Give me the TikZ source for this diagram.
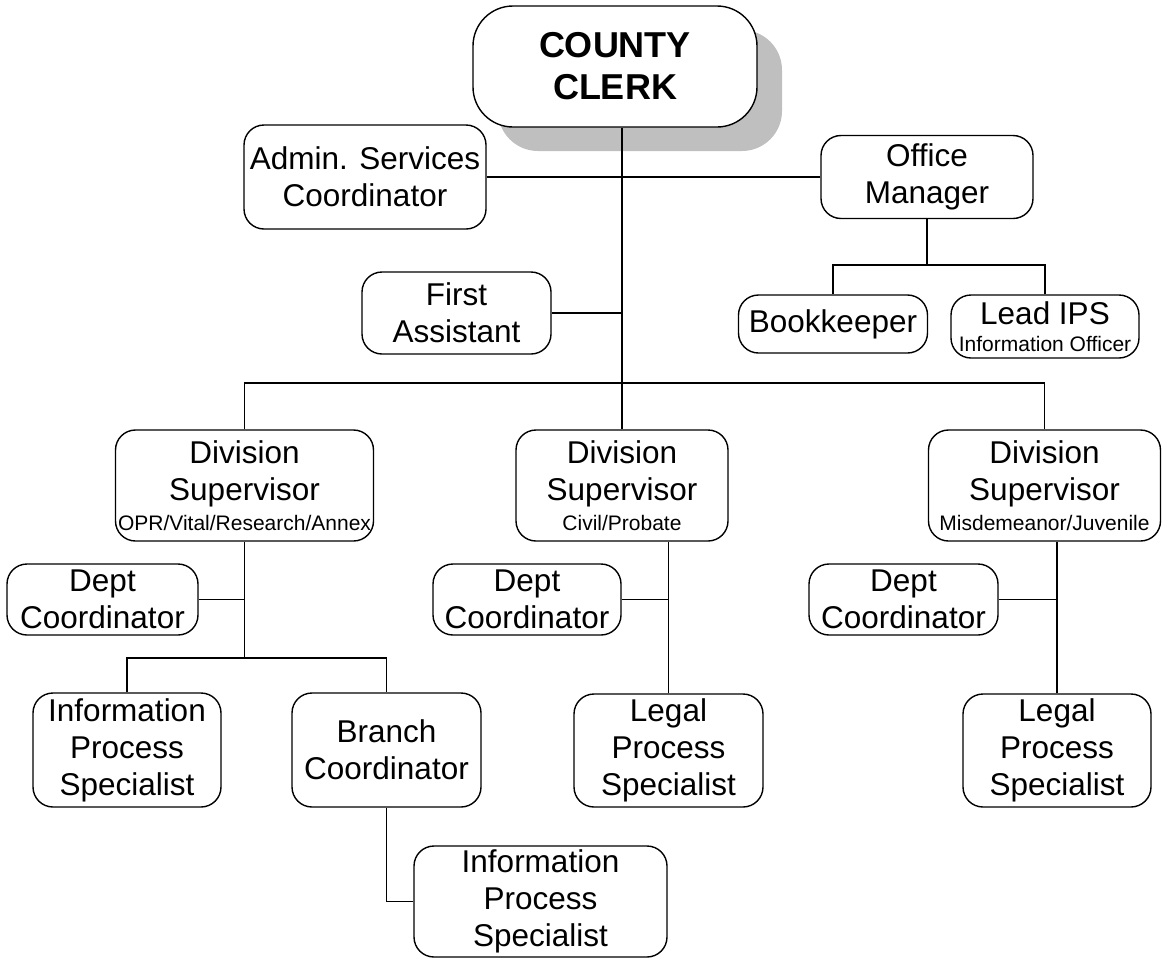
\documentclass[tikz,border=0pt]{standalone}
\usepackage{fontspec}
\setmainfont{Liberation Sans}
\usetikzlibrary{shadows}
\newcommand\subt[1]{{\fontsize{21}{25}\selectfont #1}}
\begin{document}
\begin{tikzpicture}[x=1pt,y=-1pt,
  orgbox/.style={draw, line width=1.4pt, rounded corners=20pt, fill=white,
    align=center, inner sep=1pt, font=\fontsize{31.5}{37}\selectfont},
  link/.style={line width=1.4pt},
]
\useasboundingbox (0,0) rectangle (1162,959);

% top of the chart
\node[orgbox, rounded corners=40pt, minimum width=284pt, minimum height=121pt,
  font=\fontsize{36}{42}\selectfont\bfseries,
  general shadow={fill=black!25, shadow xshift=25pt, shadow yshift=-24pt}]
  (clerk) at (615,66.5) {COUNTY\\CLERK};
\node[orgbox, minimum width=242pt, minimum height=104pt] (admin) at (365,177) {Admin. Services\\Coordinator};
\node[orgbox, minimum width=212pt, minimum height=83pt] (om) at (927,177) {Office\\Manager};
\node[orgbox, minimum width=189pt, minimum height=82pt] (fa) at (456.5,313) {First\\Assistant};
\node[orgbox, minimum width=189pt, minimum height=58pt] (bk) at (833,324) {Bookkeeper};
\node[orgbox, minimum width=188pt, minimum height=63pt] (lead) at (1045,326.5) {Lead IPS\\[-9.5pt]\subt{Information Officer}};

% divisions
\node[orgbox, minimum width=258pt, minimum height=111pt] (div1) at (244.5,485.5) {Division\\Supervisor\\[-6.5pt]\subt{OPR/Vital/Research/Annex}};
\node[orgbox, minimum width=212pt, minimum height=111pt] (div2) at (622,485.5) {Division\\Supervisor\\[-6.5pt]\subt{Civil/Probate}};
\node[orgbox, minimum width=232pt, minimum height=111pt] (div3) at (1044.5,485.5) {Division\\Supervisor\\[-6.5pt]\subt{Misdemeanor/Juvenile}};

\node[orgbox, minimum width=191pt, minimum height=71pt] (dc1) at (102.5,599.5) {Dept\\Coordinator};
\node[orgbox, minimum width=188pt, minimum height=71pt] (dc2) at (527,599.5) {Dept\\Coordinator};
\node[orgbox, minimum width=189pt, minimum height=71pt] (dc3) at (903.5,599.5) {Dept\\Coordinator};

\node[orgbox, minimum width=188pt, minimum height=114pt] (info1) at (127,750) {Information\\Process\\Specialist};
\node[orgbox, minimum width=189pt, minimum height=114pt] (branch) at (386.5,750) {Branch\\Coordinator};
\node[orgbox, minimum width=189pt, minimum height=113pt] (legal2) at (668.5,750.5) {Legal\\Process\\Specialist};
\node[orgbox, minimum width=188pt, minimum height=113pt] (legal3) at (1057,750.5) {Legal\\Process\\Specialist};
\node[orgbox, minimum width=253pt, minimum height=111pt] (info2) at (540.5,901.5) {Information\\Process\\Specialist};

% connectors
\coordinate (trunkbot) at (622,383);
\draw[link] (clerk.south -| trunkbot) -- (trunkbot);
\draw[link] (admin.east) -- (admin.east -| om.west);
\draw[link] (fa.east) -- (fa.east -| trunkbot);
\draw[link] (div1.north) |- (div3.north |- trunkbot) -- (div3.north);
\draw[link] (div2.north) -- (div2.north |- trunkbot);
\draw[line width=2.4pt] (div1.north |- trunkbot) -- ++(12,0);

\coordinate (omj) at (927,265);
\draw[link] (om.south) -- (omj);
\draw[link] (bk.north) |- (omj) -| (lead.north);

\coordinate (d1bus) at (244.5,658);
\draw[link] (div1.south) -- (d1bus);
\draw[link] (info1.north) |- (d1bus) -| (branch.north);
\draw[link] (dc1.east) -- (dc1.east -| div1.south);
\draw[link] (branch.south) |- (info2.west);

\draw[link] (legal2.north) -- (legal2.north |- div2.south);
\draw[link] (dc2.east) -- (dc2.east -| legal2.north);
\draw[link] (legal3.north) -- (legal3.north |- div3.south);
\draw[link] (dc3.east) -- (dc3.east -| legal3.north);
\end{tikzpicture}
\end{document}
